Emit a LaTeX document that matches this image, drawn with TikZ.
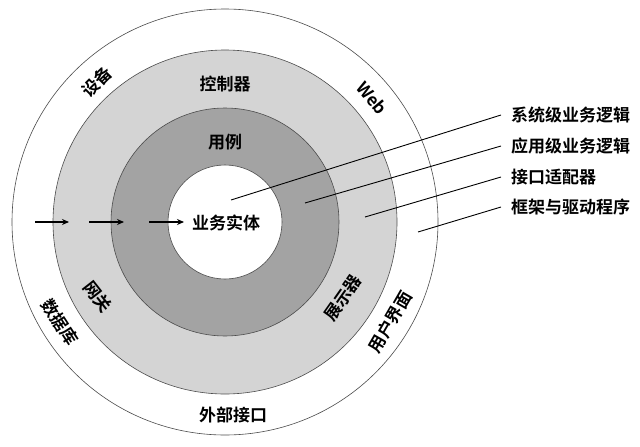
\documentclass[tikz,border=0pt]{standalone}
\usepackage{fontspec}
\setmainfont{Noto Sans CJK SC Bold}
\usetikzlibrary{arrows.meta}
\definecolor{ringlight}{HTML}{D4D4D4}
\definecolor{ringdark}{HTML}{A3A3A3}
\begin{document}
\begin{tikzpicture}[x=1pt,y=-1pt,
  ring/.style={draw=black!70,line width=0.6pt},
  lbl/.style={font=\fontsize{17}{17}\selectfont,inner sep=0pt},
  lead/.style={line width=0.9pt},
  flow/.style={line width=1.4pt,-{Stealth[length=7pt,width=6pt]}}]
\useasboundingbox (0,0) rectangle (640,447);
\coordinate (c) at (225,222);
\fill[white] (0,0) rectangle (640,447);
\draw[ring,fill=white] (c) circle[radius=213];
\draw[ring,fill=ringlight] (c) circle[radius=172];
\draw[ring,fill=ringdark] (c) circle[radius=114];
\draw[ring,fill=white] (c) circle[radius=57];
% ring labels
\node[lbl] (ent) at (226,223) {业务实体};
\node[lbl] (uc) at (225,142) {用例};
\node[lbl] (ctl) at (225,84) {控制器};
\node[lbl,rotate=-52] (gw) at (98,297) {网关};
\node[lbl,rotate=55] (pres) at (343,298) {展示器};
\node[lbl,rotate=45] (dev) at (97,82) {设备};
\node[lbl,rotate=-50] (web) at (372,98) {Web};
\node[lbl,rotate=-57] (db) at (60,322) {数据库};
\node[lbl,rotate=60] (ui) at (390,322) {用户界面};
\node[lbl] (ext) at (233,415) {外部接口};
% arrows
\coordinate (a1s) at (35,222); \coordinate (a1e) at (69,222);
\coordinate (a2s) at (89,222); \coordinate (a2e) at (124,222);
\coordinate (a3s) at (149,222); \coordinate (a3e) at (184,222);
\draw[flow] (a1s) -- (a1e);
\draw[flow] (a2s) -- (a2e);
\draw[flow] (a3s) -- (a3e);
% legend
\node[lbl,anchor=west] (l1) at (511,115) {系统级业务逻辑};
\node[lbl,anchor=west] (l2) at (511,146) {应用级业务逻辑};
\node[lbl,anchor=west] (l3) at (511,177) {接口适配器};
\node[lbl,anchor=west] (l4) at (511,207) {框架与驱动程序};
\coordinate (p1) at (231,200);
\coordinate (p2) at (305,203);
\coordinate (p3) at (365,217);
\coordinate (p4) at (418,232);
\draw[lead] (p1) -- ([xshift=-10pt]l1.west);
\draw[lead] (p2) -- ([xshift=-10pt]l2.west);
\draw[lead] (p3) -- ([xshift=-10pt]l3.west);
\draw[lead] (p4) -- ([xshift=-10pt]l4.west);
\end{tikzpicture}
\end{document}
